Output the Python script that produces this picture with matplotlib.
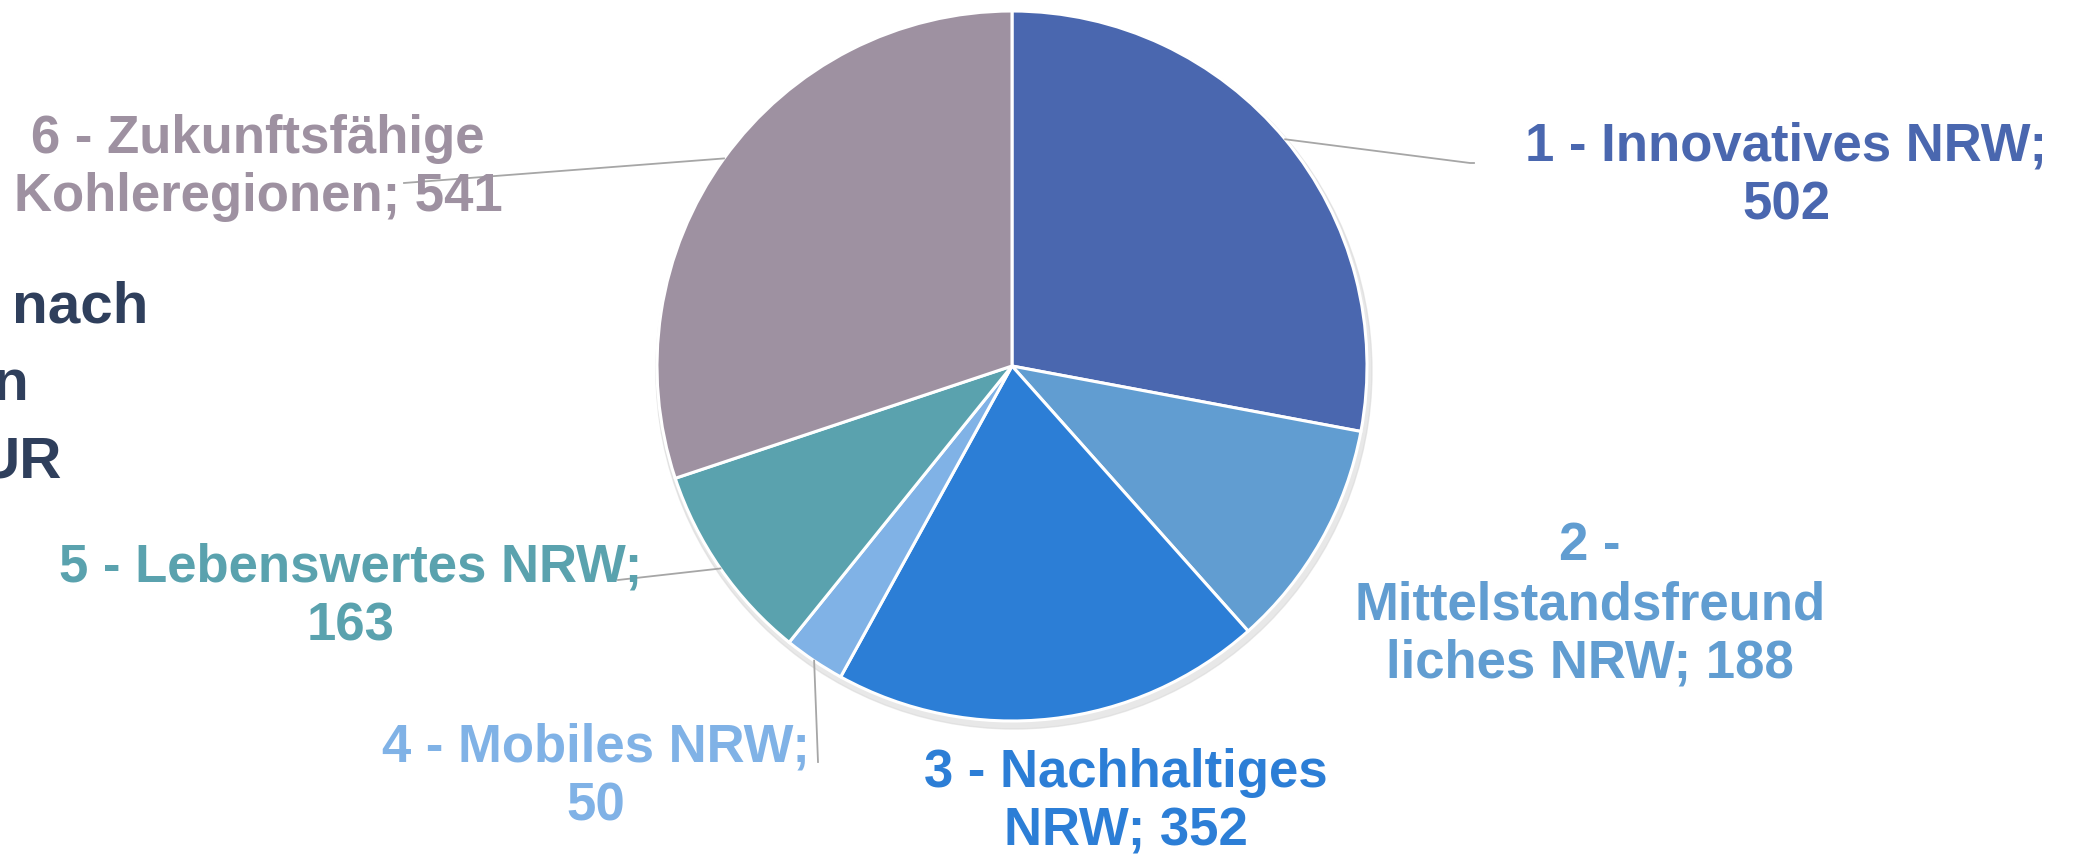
import numpy as np
import matplotlib.pyplot as plt
from matplotlib.patches import Circle

# Data: funding per programme (Mio. EUR)
programmes = ["1 - Innovatives NRW", "2 - Mittelstandsfreundliches NRW", "3 - Nachhaltiges NRW",
              "4 - Mobiles NRW", "5 - Lebenswertes NRW", "6 - Zukunftsfähige Kohleregionen"]
values = [502, 188, 352, 50, 163, 541]
label_texts = ["1 - Innovatives NRW;\n502",
               "2 -\nMittelstandsfreund\nliches NRW; 188",
               "3 - Nachhaltiges\nNRW; 352",
               "4 - Mobiles NRW;\n50",
               "5 - Lebenswertes NRW;\n163",
               "6 - Zukunftsfähige\nKohleregionen; 541"]
colors = ["#4A67AF", "#619DD1", "#2C7ED6", "#80B2E6", "#5AA2AE", "#9E91A1"]

W, H = 2077, 856
fig = plt.figure(figsize=(W / 100, H / 100), dpi=100)
ax = fig.add_axes([0, 0, 1, 1])

cx, cy, r = 1012, H - 366, 355

# soft shadow behind the pie
ax.add_patch(Circle((cx + 2, cy - 5), r + 3, color='#d9d9d9', alpha=0.6, zorder=0))

wedges, _ = ax.pie(values, center=(cx, cy), radius=r, startangle=90, counterclock=False,
                   colors=colors, wedgeprops=dict(edgecolor='white', linewidth=2.2), frame=True)
ax.set_xlim(0, W)
ax.set_ylim(0, H)
ax.set_aspect('equal')
ax.axis('off')

label_font = ['Liberation Sans', 'DejaVu Sans']

# label centres (image pixel coords)
label_pos = [(1786, 176), (1590, 605), (1126, 802), (596, 777), (351, 597), (258, 168)]
for txt, (lx, ly), c in zip(label_texts, label_pos, colors):
    ax.text(lx, H - ly, txt, ha='center', va='center', color=c, fontsize=38,
            fontweight='bold', family=label_font, linespacing=1.22)

# leader lines for slices 1, 4, 5, 6 (start at wedge mid-angle on the rim)
leader_ends = {0: [(1470, 163), (1474, 163)], 3: [(818, 762)], 4: [(618, 580)], 5: [(404, 183)]}
for i, pts in leader_ends.items():
    w = wedges[i]
    mid = np.radians((w.theta1 + w.theta2) / 2)
    x0, y0 = cx + r * np.cos(mid), cy + r * np.sin(mid)
    xs = [x0] + [p[0] for p in pts]
    ys = [y0] + [H - p[1] for p in pts]
    ax.plot(xs, ys, color='#a6a6a6', linewidth=1.3, zorder=1)

# title text cut off at the left edge
title_col = '#2F3F5C'
for t, (rx, by) in zip(["nach", "n", "UR"], [(148, 322), (29, 400), (62, 477)]):
    ax.text(rx, H - by, t, ha='right', va='baseline', color=title_col, fontsize=42,
            fontweight='bold', family=['Liberation Sans', 'DejaVu Sans'])

fig.savefig('out.png', dpi=100, facecolor='white')
